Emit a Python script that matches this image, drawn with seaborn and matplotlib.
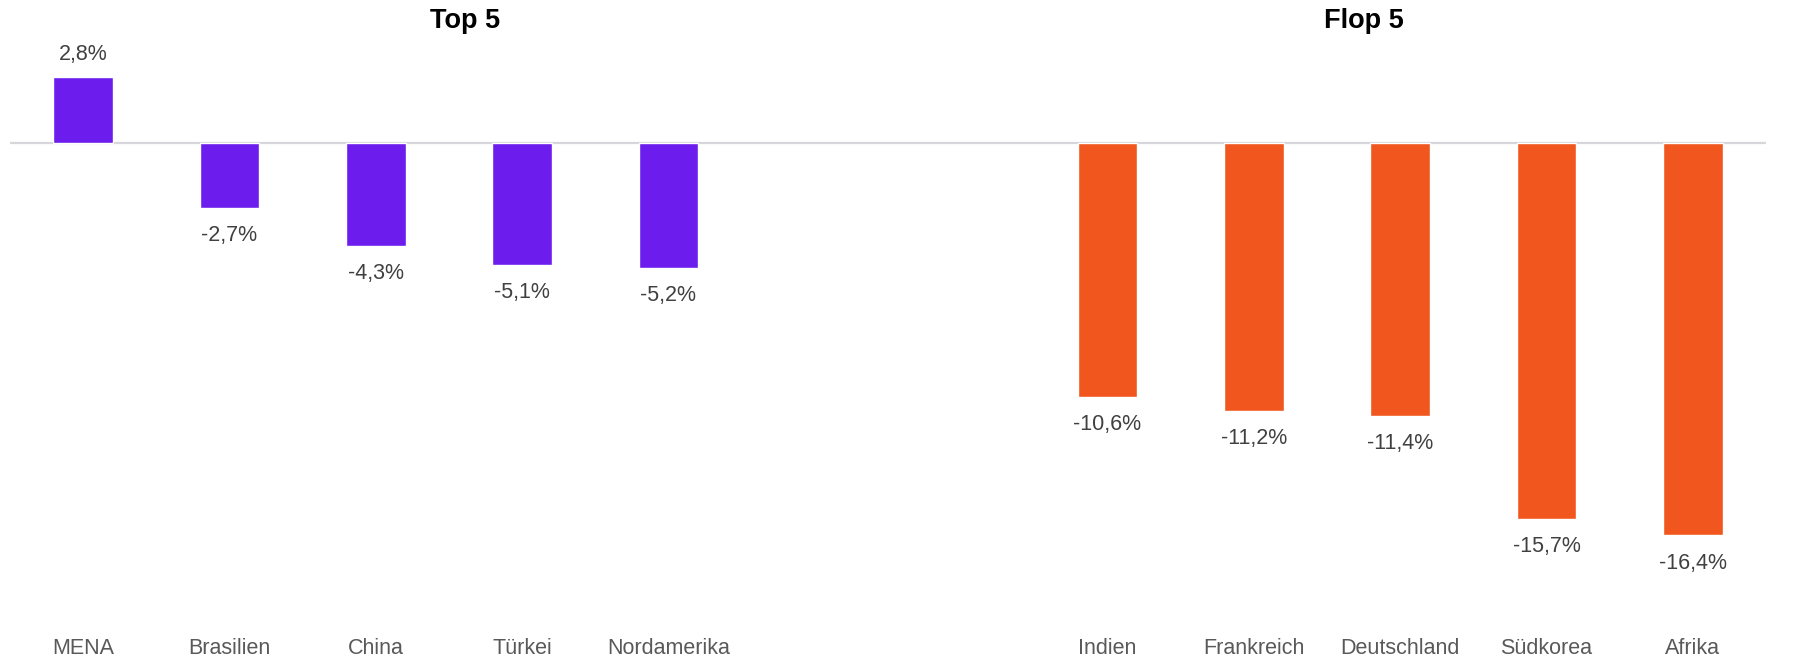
import seaborn as sns
import pandas as pd
import matplotlib.pyplot as plt

# data (change in %)
top_names = ['MENA', 'Brasilien', 'China', 'Türkei', 'Nordamerika']
top_values = [2.8, -2.7, -4.3, -5.1, -5.2]
flop_names = ['Indien', 'Frankreich', 'Deutschland', 'Südkorea', 'Afrika']
flop_values = [-10.6, -11.2, -11.4, -15.7, -16.4]
group_titles = ['Top 5', 'Flop 5']

purple = '#6C1DED'
orange = '#F0561D'

df = pd.DataFrame({
    'region': top_names + flop_names,
    'change': top_values + flop_values,
    'group': [group_titles[0]] * len(top_names) + [group_titles[1]] * len(flop_names),
})

# two empty slots separate the groups
order = top_names + ['', ' '] + flop_names

sns.set_style('white')
plt.rcParams['font.family'] = ['Liberation Sans', 'DejaVu Sans']

fig = plt.figure(figsize=(18, 6.57), dpi=100)
ax = fig.add_axes([10 / 1800, 0.1268, 1756 / 1800, 0.8003])

sns.barplot(data=df, x='region', y='change', hue='group', order=order,
            palette={group_titles[0]: purple, group_titles[1]: orange},
            dodge=False, width=0.41, legend=False, ax=ax, saturation=1)

ax.axhline(0, color='#D6D6DC', lw=1.6, zorder=0)

def fmt(v):
    return f'{v:.1f}%'.replace('.', ',')

for c in ax.containers:
    vals = c.datavalues
    # positive labels above, negative ones a bit further below
    ax.bar_label(c, labels=[fmt(v) if v >= 0 else '' for v in vals],
                 padding=8, fontsize=15.5, color='#404040')
    ax.bar_label(c, labels=[fmt(v) if v < 0 else '' for v in vals],
                 padding=12.3, fontsize=15.5, color='#404040')

ax.set_xlim(-0.5, len(order) - 0.5)
ax.set_ylim(-18, 4)
ax.set_xlabel('')
ax.set_ylabel('')
ax.set_yticks([])
ax.tick_params(axis='x', length=0, pad=46, labelsize=15.5, labelcolor='#595959')
sns.despine(ax=ax, left=True, bottom=True)

fig.text(465 / 1800, 1 - 21 / 657, group_titles[0], ha='center', va='center',
         fontsize=19.5, fontweight='bold', color='black')
fig.text(1364 / 1800, 1 - 21 / 657, group_titles[1], ha='center', va='center',
         fontsize=19.5, fontweight='bold', color='black')

plt.savefig('out.png', dpi=100)
